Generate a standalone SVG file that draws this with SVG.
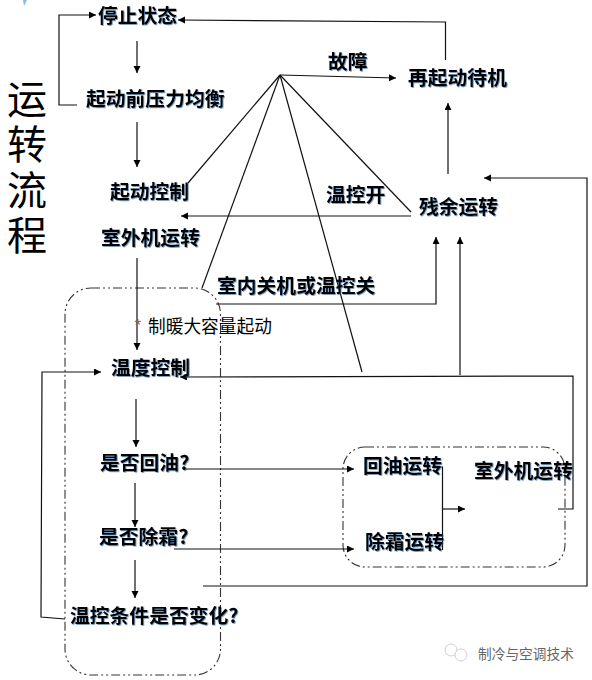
<svg xmlns="http://www.w3.org/2000/svg" width="592" height="680" viewBox="0 0 592 680">
<style>
text{font-family:"Noto Sans CJK SC","Liberation Sans",sans-serif;fill:#000}
.b{font-size:19.8px;font-weight:700;dominant-baseline:central;filter:url(#sh)}
.t{font-size:40px;font-weight:400;writing-mode:vertical-rl;letter-spacing:5.2px}
.c line,.c polyline{fill:none;stroke:#111;stroke-width:1.2}
.a{marker-end:url(#ah)}
.box{fill:none;stroke:#333;stroke-width:1.1;stroke-dasharray:9 3 2 3 2 3}
</style>
<defs>
<marker id="ah" markerUnits="userSpaceOnUse" markerWidth="8" markerHeight="8" refX="7" refY="3.5" orient="auto"><path d="M0 0L7 3.500L0 7Z" fill="#000"/></marker>
<filter id="sh" x="-10%" y="-20%" width="120%" height="140%"><feDropShadow dx="0.8" dy="0.8" stdDeviation="0.5" flood-color="#2a5a8a" flood-opacity="0.7"/></filter>
</defs>
<rect width="592" height="680" fill="#fff"/>
<polygon points="23,0 27,0 24,6" fill="#8db8ec"/>
<g id="title">
<text class="t" x="27" y="79">运转流程</text>
</g>
<g id="groups">
<rect id="box-left" class="box" x="65" y="288" width="155.500" height="387" rx="26"/>
<rect id="box-right" class="box" x="343" y="447" width="222" height="120" rx="22"/>
</g>
<g id="connectors" class="c">
<polyline class="a" points="77,105 59,105 59,15 96,15"/>
<line class="a" x1="137" y1="41" x2="137" y2="73"/>
<line class="a" x1="137" y1="122" x2="137" y2="167"/>
<line x1="280" y1="75" x2="188" y2="183"/>
<line x1="280" y1="75" x2="202" y2="288"/>
<line x1="280" y1="75" x2="362" y2="372"/>
<line x1="280" y1="75" x2="411" y2="212"/>
<line class="a" x1="280" y1="75" x2="396" y2="78"/>
<polyline class="a" points="445.500,60 445.500,22 178,20"/>
<line class="a" x1="411" y1="216" x2="181" y2="216"/>
<line class="a" x1="448" y1="174" x2="448" y2="103"/>
<polyline class="a" points="203,586 587,586 587,178 484,178"/>
<polyline class="a" points="216,304 436,304 436,237"/>
<line class="a" x1="460" y1="375" x2="460" y2="237"/>
<polyline class="a" points="558,509 573,509 573,376 180,377"/>
<line class="a" x1="183" y1="469" x2="354" y2="469"/>
<line class="a" x1="174" y1="549" x2="354" y2="549"/>
<polyline points="438,467 442.500,467 442.500,550"/>
<line class="a" x1="442" y1="509" x2="465" y2="509"/>
<polyline class="a" points="65,619 41,617 42,372 101,372"/>
<line class="a" x1="137" y1="258" x2="137" y2="350"/>
<line class="a" x1="136" y1="399" x2="136" y2="447"/>
<line class="a" x1="135" y1="483" x2="135" y2="527"/>
<line class="a" x1="135" y1="560" x2="135" y2="598"/>
</g>
<g id="n-stop"><text class="b" x="98" y="14">停止状态</text></g>
<g id="n-balance"><text class="b" x="86" y="97">起动前压力均衡</text></g>
<g id="n-startctl"><text class="b" x="110" y="190">起动控制</text></g>
<g id="n-outdoor1"><text class="b" x="101" y="236">室外机运转</text></g>
<g id="n-fault"><text class="b" x="328" y="60">故障</text></g>
<g id="n-restart"><text class="b" x="408" y="76">再起动待机</text></g>
<g id="n-tempon"><text class="b" x="326" y="193">温控开</text></g>
<g id="n-residual"><text class="b" x="419" y="205">残余运转</text></g>
<g id="n-indooroff"><text class="b" x="217" y="284">室内关机或温控关</text></g>
<g id="n-heatstart"><text x="134.500" y="331" font-size="17" style="fill:#a8561f;font-family:'Liberation Sans',sans-serif">*</text><text x="148" y="325" font-size="17.700" dominant-baseline="central">制暖大容量起动</text></g>
<g id="n-tempctl"><text class="b" x="111" y="366">温度控制</text></g>
<g id="n-oilq"><text class="b" x="100" y="461">是否回油?</text></g>
<g id="n-oil"><text class="b" x="363" y="464">回油运转</text></g>
<g id="n-outdoor2"><text class="b" x="474" y="469">室外机运转</text></g>
<g id="n-defrostq"><text class="b" x="99" y="535">是否除霜?</text></g>
<g id="n-defrost"><text class="b" x="365" y="540">除霜运转</text></g>
<g id="n-change"><text class="b" x="70" y="614">温控条件是否变化?</text></g>
<g id="watermark">
<circle cx="451" cy="650" r="6" fill="none" stroke="#d0d0d0"/>
<circle cx="461" cy="655" r="6" fill="#fff" stroke="#d0d0d0"/>
<text x="478" y="653" font-size="13.700" dominant-baseline="central" style="fill:#666">制冷与空调技术</text>
</g>
</svg>
